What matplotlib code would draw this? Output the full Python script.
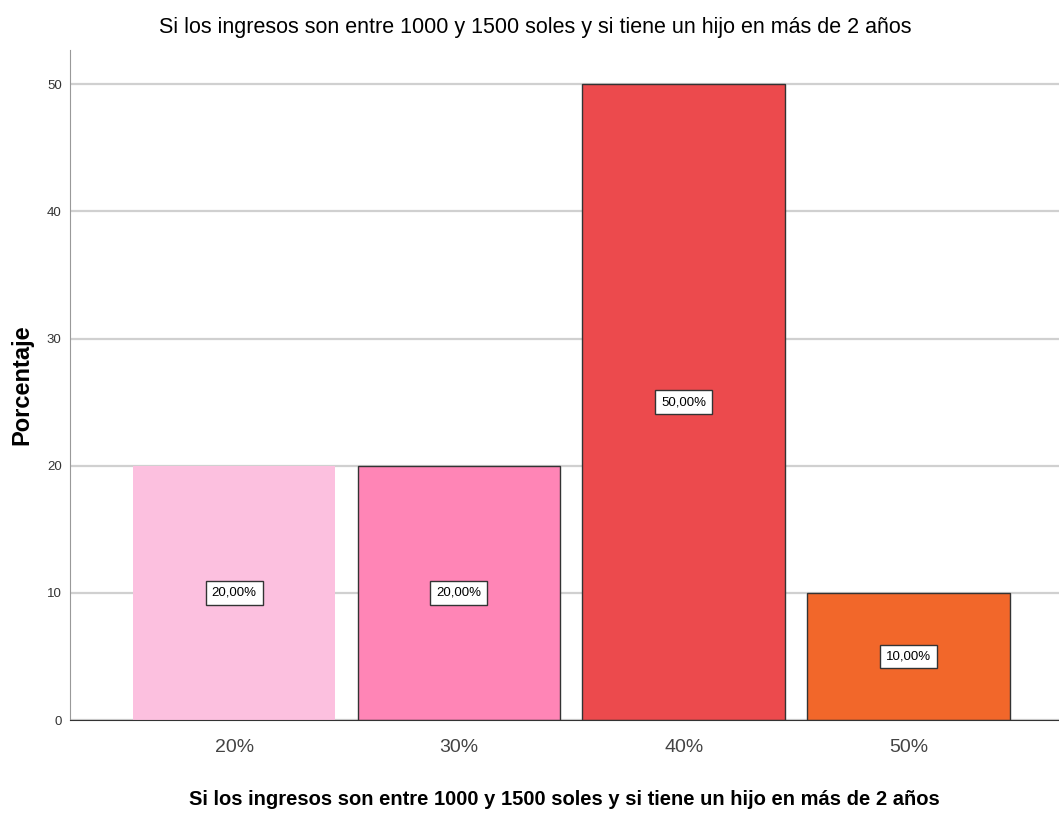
import matplotlib
matplotlib.use("Agg")
import matplotlib.pyplot as plt

categories = ['20%', '30%', '40%', '50%']
percentages = [20, 20, 50, 10]
bar_labels = ['20,00%', '20,00%', '50,00%', '10,00%']
bar_colors = ['#FCC0DF', '#FF85B6', '#EC4A4D', '#F2672A']
edge_colors = ['none', '#333333', '#333333', '#333333']

title = 'Si los ingresos son entre 1000 y 1500 soles y si tiene un hijo en más de 2 años'
sans = ['Liberation Sans', 'DejaVu Sans']

fig = plt.figure(figsize=(10.59, 8.16), dpi=100)
ax = fig.add_axes([0.0661, 0.1176, 0.9339, 0.8211])

x = list(range(len(categories)))
bars = ax.bar(x, percentages, width=0.9, color=bar_colors, zorder=2)
for b, ec in zip(bars, edge_colors):
    b.set_edgecolor(ec)
    b.set_linewidth(1.0)

# value labels in boxes at mid-height
for xi, v, lab in zip(x, percentages, bar_labels):
    ax.text(xi, v / 2, lab, ha='center', va='center', fontsize=9.5,
            family=sans, color='black', zorder=3,
            bbox=dict(boxstyle='square,pad=0.45', facecolor='white',
                      edgecolor='#333333', linewidth=1.0))

ax.set_xlim(-0.73, 3.67)
ax.set_ylim(0, 52.7)
ax.set_yticks([0, 10, 20, 30, 40, 50])
ax.yaxis.grid(True, color='#D0D0D0', linewidth=1.6, zorder=0)
ax.set_axisbelow(True)

ax.set_xticks(x)
ax.set_xticklabels(categories, fontsize=14, family=sans, color='#444444')
for t in ax.get_yticklabels():
    t.set_family(sans)
    t.set_fontsize(9.5)
    t.set_color('#333333')
ax.tick_params(axis='both', length=0)
ax.tick_params(axis='x', pad=14)
ax.tick_params(axis='y', pad=6)

for s in ['top', 'right']:
    ax.spines[s].set_visible(False)
ax.spines['left'].set_color('#999999')
ax.spines['bottom'].set_color('#333333')

ax.set_title(title, fontsize=15.5, family=sans, pad=12, x=0.47)
ax.set_xlabel(title, fontsize=14.5, family=sans, fontweight='bold', labelpad=24)
ax.set_ylabel('Porcentaje', fontsize=17, fontweight='bold', family=sans)
ax.yaxis.set_label_coords(-0.037, 0.5)

fig.savefig('out.png', dpi=100)
